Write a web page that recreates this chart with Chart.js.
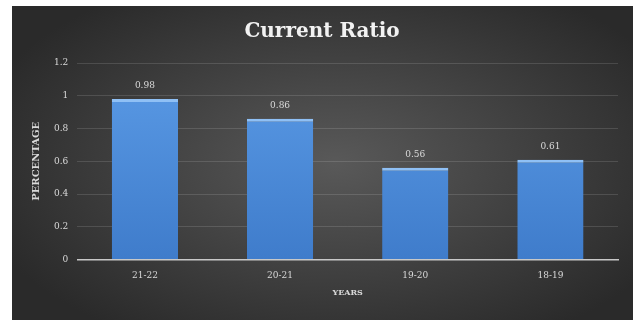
<!DOCTYPE html>
<html>
<head>
<meta charset="utf-8">
<script src="https://cdn.jsdelivr.net/npm/chart.js@4.4.1/dist/chart.umd.min.js"></script>
<style>
  body { margin:0; background:#fff; }
  #wrap {
    position:absolute; left:12px; top:6px; width:621px; height:314px;
    background: radial-gradient(ellipse 60% 65% at 52% 50%, #595959 0%, #444 45%, #2a2a2a 100%);
  }
</style>
</head>
<body>
<div id="wrap"><canvas id="myChart"></canvas></div>
<script>
// chart data
var years = ["21-22", "20-21", "19-20", "18-19"];
var ratios = [0.98, 0.86, 0.56, 0.61];
var yTicks = [0, 0.2, 0.4, 0.6, 0.8, 1, 1.2];

var serif = "'DejaVu Serif', 'Liberation Serif', serif";

// draws the value above each bar
var valueLabels = {
  id: "valueLabels",
  afterDatasetsDraw: function(chart) {
    var ctx = chart.ctx;
    var meta = chart.getDatasetMeta(0);
    ctx.save();
    ctx.fillStyle = "#d9d9d9";
    ctx.font = "9px " + serif;
    ctx.textAlign = "center";
    ctx.textBaseline = "middle";
    meta.data.forEach(function(bar, i) {
      ctx.fillText(String(ratios[i]), bar.x, bar.y - 13);
    });
    ctx.restore();
  }
};

var ctx = document.getElementById("myChart");
var myChart = new Chart(ctx, {
  type: "bar",
  data: {
    labels: years,
    datasets: [{
      data: ratios,
      backgroundColor: function(c) {
        var area = c.chart.chartArea;
        if (!area) return "#4a89d6";
        var g = c.chart.ctx.createLinearGradient(0, area.top, 0, area.bottom);
        g.addColorStop(0, "#5b9be6");
        g.addColorStop(1, "#3f7ccb");
        return g;
      },
      borderColor: "#8fc0f5",
      borderWidth: { top: 3, left: 0, right: 0, bottom: 0 },
      borderSkipped: false,
      categoryPercentage: 1,
      barPercentage: 0.49
    }]
  },
  options: {
    responsive: true,
    maintainAspectRatio: false,
    animation: false,
    layout: { padding: { left: 14, right: 15, top: 0, bottom: 22 } },
    plugins: {
      legend: { display: false },
      tooltip: { enabled: false },
      title: {
        display: true,
        text: "Current Ratio",
        color: "#f2f2f2",
        font: { family: serif, size: 20, weight: "bold" },
        padding: { top: 14, bottom: 19 }
      }
    },
    scales: {
      x: {
        grid: { display: false, drawTicks: false },
        border: { color: "#c8c8c8", width: 1.5 },
        ticks: { color: "#d9d9d9", font: { family: serif, size: 9 }, padding: 11 },
        title: {
          display: true, text: "YEARS", color: "#d9d9d9",
          font: { family: serif, size: 8, weight: "bold" }, padding: { top: -4, bottom: 0 }
        }
      },
      y: {
        min: 0, max: 1.2,
        afterBuildTicks: function(axis) {
          axis.ticks = yTicks.map(function(v) { return { value: v }; });
        },
        grid: { color: "rgba(255,255,255,0.13)", drawTicks: false },
        border: { display: false },
        ticks: {
          color: "#d9d9d9", font: { family: serif, size: 9 }, padding: 9,
          callback: function(v) { return String(v); }
        },
        title: {
          display: true, text: "PERCENTAGE", color: "#d9d9d9",
          font: { family: serif, size: 10, weight: "bold" }, padding: { bottom: 3 }
        }
      }
    }
  },
  plugins: [valueLabels]
});
</script>
</body>
</html>
